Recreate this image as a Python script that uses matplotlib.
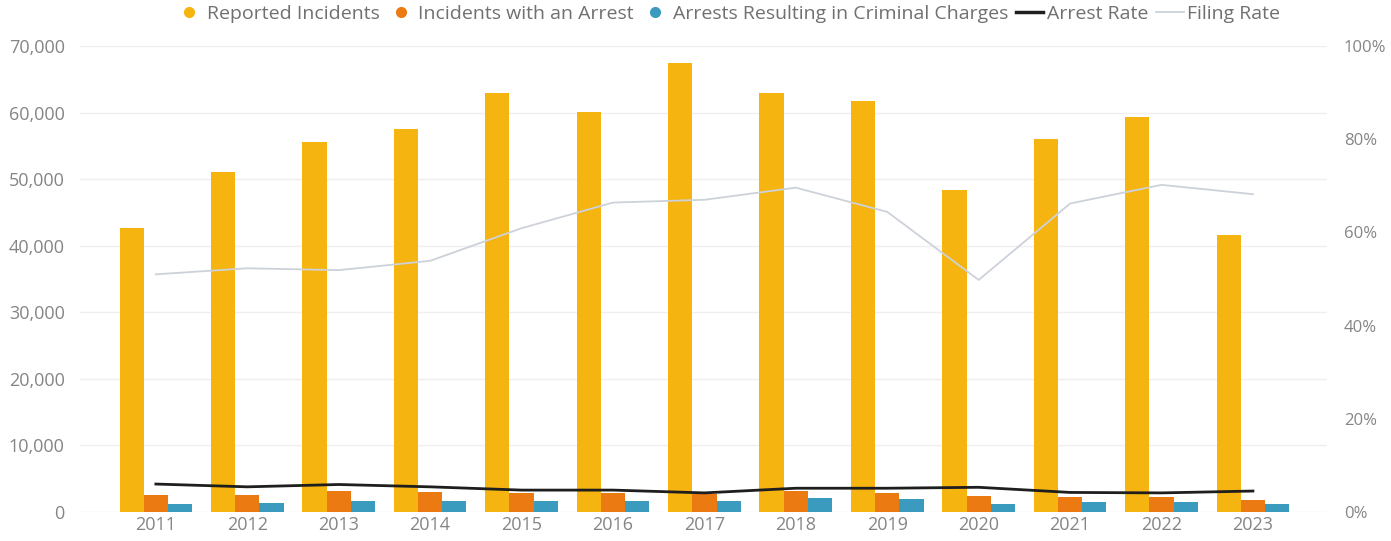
import matplotlib
matplotlib.use("Agg")
import matplotlib.pyplot as plt
from matplotlib.lines import Line2D
from matplotlib.ticker import FuncFormatter, MultipleLocator
import numpy as np

plt.rcParams["font.family"] = ["Open Sans", "DejaVu Sans"]

# Data
years = ["2011", "2012", "2013", "2014", "2015", "2016", "2017",
         "2018", "2019", "2020", "2021", "2022", "2023"]
reported = [42600, 51100, 55600, 57500, 63000, 60100, 67400,
            63000, 61800, 48300, 56100, 59400, 41600]
with_arrest = [2500, 2600, 3200, 2950, 2900, 2900, 2700,
               3200, 2900, 2400, 2300, 2250, 1800]
charged = [1250, 1400, 1650, 1650, 1650, 1700, 1650,
           2150, 1900, 1200, 1550, 1550, 1200]
arrest_rate = [6.0, 5.4, 5.9, 5.4, 4.7, 4.7, 4.1, 5.1, 5.1, 5.3, 4.2, 4.1, 4.5]
filing_rate = [51.0, 52.3, 51.9, 53.9, 60.9, 66.4, 67.0,
               69.6, 64.4, 49.8, 66.2, 70.2, 68.2]

c_yellow = "#F5B40F"
c_orange = "#EC7A12"
c_teal = "#3A9BBE"
c_black = "#1E1E1E"
c_grey = "#CDD1DA"
c_text = "#858585"

fig = plt.figure(figsize=(13.91, 5.41), dpi=100)
ax = fig.add_axes([80 / 1391, 29 / 541, 1247 / 1391, 466 / 541])

x = np.arange(len(years))
w = 0.265
ax.bar(x - w, reported, w, color=c_yellow, zorder=2)
ax.bar(x, with_arrest, w, color=c_orange, zorder=2)
ax.bar(x + w, charged, w, color=c_teal, zorder=2)

ax.set_xlim(-0.83, 12.81)
ax.set_ylim(0, 70000)
ax.yaxis.set_major_locator(MultipleLocator(10000))
ax.yaxis.set_major_formatter(FuncFormatter(lambda v, p: f"{int(v):,}"))
ax.set_xticks(x)
ax.set_xticklabels(years)
ax.grid(axis="y", color="#EFEFEF", linewidth=1, zorder=0)
ax.set_axisbelow(True)

ax2 = ax.twinx()
ax2.plot(x, filing_rate, color=c_grey, linewidth=1.3, zorder=3)
ax2.plot(x, arrest_rate, color=c_black, linewidth=2, zorder=4)
ax2.set_ylim(0, 100)
ax2.yaxis.set_major_locator(MultipleLocator(20))
ax2.yaxis.set_major_formatter(FuncFormatter(lambda v, p: f"{int(v)}%"))

for a in (ax, ax2):
    for s in a.spines.values():
        s.set_visible(False)
    a.tick_params(length=0, colors=c_text, labelsize=13)
ax.tick_params(axis="y", pad=11)
ax.tick_params(axis="x", pad=3)
ax2.tick_params(axis="y", pad=12, labelsize=12)

handles = [
    Line2D([], [], marker="o", linestyle="none", color=c_yellow, markersize=7),
    Line2D([], [], marker="o", linestyle="none", color=c_orange, markersize=7),
    Line2D([], [], marker="o", linestyle="none", color=c_teal, markersize=7),
    Line2D([], [], color=c_black, linewidth=2.5),
    Line2D([], [], color=c_grey, linewidth=1.3),
]
labels = ["Reported Incidents", "Incidents with an Arrest",
          "Arrests Resulting in Criminal Charges", "Arrest Rate", "Filing Rate"]
fig.legend(handles, labels, loc="center", bbox_to_anchor=(728 / 1391, 1 - 14 / 541),
           ncol=5, frameon=False, fontsize=14, labelcolor="#707070",
           handlelength=1.4, handletextpad=0.2, columnspacing=0.4)

fig.savefig("out.png", dpi=100)
